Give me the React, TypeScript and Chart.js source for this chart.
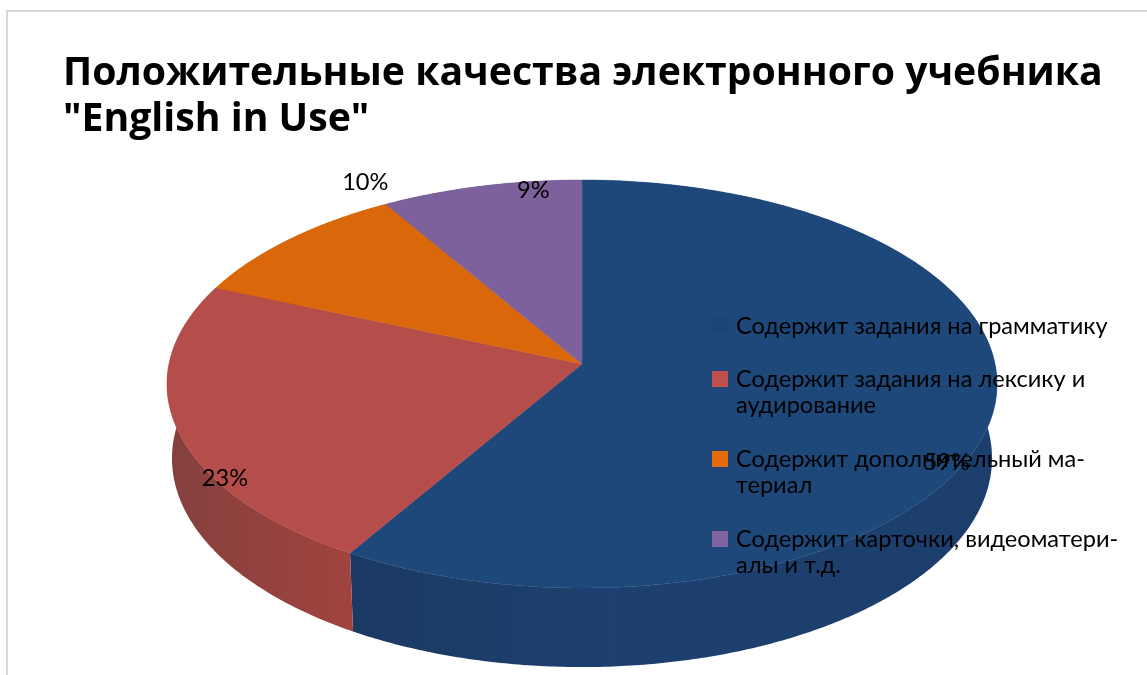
import React, { useEffect, useRef } from "react";
import { Chart, registerables } from "chart.js";

Chart.register(...registerables);

const titleLines = ["Положительные качества электронного учебника", '"English in Use"'];
const categories = [
  "Содержит задания на грамматику",
  "Содержит задания на лексику и аудирование",
  "Содержит дополнительный материал",
  "Содержит карточки, видеоматериалы и т.д.",
];
const values = [58.6, 22.8, 10, 8.6];
const legendLines = [
  ["Содержит задания на грамматику"],
  ["Содержит задания на лексику и", "аудирование"],
  ["Содержит дополнительный ма-", "териал"],
  ["Содержит карточки, видеоматери-", "алы и т.д."],
];
const topColors = ["#1f487a", "#b54d4a", "#da680a", "#7c619c"];
const wallStops = [
  ["#1b3a63", "#1d4070", "#1c3e6c"],
  ["#84403d", "#92423e", "#a0433f"],
  ["#b05508", "#b05508", "#b05508"],
  ["#64507e", "#64507e", "#64507e"],
];
const legendColors = ["#1e4475", "#c0504d", "#e46c0a", "#8064a2"];

const FONT = "Lato, 'Open Sans', sans-serif";
const TITLE_FONT = "'Open Sans', sans-serif";
const view = { cx: 582, cy: 364, A: 413, B: 202, k: 0.098, depth: 75, m: 0.012 };
const labelOffsets = [[-44, 43], [48, 50], [76, -57], [52, 4]];
const legendLayout = { boxX: 712, textX: 736, box: 16, lineH: 26.5, firstLineY: [326, 379, 459, 539] };
const labelFontPx = 23.6;

function project(theta: number, z: 0 | 1) {
  const u = Math.sin(theta);
  const v = -Math.cos(theta);
  const w = 1 - view.k * v + (z ? view.m : 0);
  return {
    x: view.cx + (view.A * u) / w,
    y: view.cy + (view.B * v + (z ? view.depth : 0)) / w,
  };
}

function rim(ctx: CanvasRenderingContext2D, a: number, b: number, z: 0 | 1) {
  const n = Math.max(2, Math.ceil(Math.abs(b - a) / 0.01));
  for (let i = 0; i <= n; i++) {
    const p = project(a + ((b - a) * i) / n, z);
    ctx.lineTo(p.x, p.y);
  }
}

const pie3d = {
  id: "pie3d",
  beforeDraw(chart: any) {
    const ctx = chart.ctx;
    ctx.save();
    ctx.strokeStyle = "#d9d9d9";
    ctx.lineWidth = 2;
    ctx.beginPath();
    ctx.moveTo(7, 675);
    ctx.lineTo(7, 11);
    ctx.lineTo(1147, 11);
    ctx.stroke();
    ctx.restore();
  },
  beforeDatasetDraw() {
    return false;
  },
  afterDatasetsDraw(chart: any) {
    const ctx = chart.ctx;
    const arcs = chart.getDatasetMeta(0).data;
    const angles = arcs.map((arc: any) => {
      const p = arc.getProps(["startAngle", "endAngle"], true);
      return [p.startAngle + Math.PI / 2, p.endAngle + Math.PI / 2];
    });
    ctx.save();
    // side walls
    angles.forEach(([a, b]: number[], i: number) => {
      const g = i === 0 ? ctx.createLinearGradient(350, 0, 997, 0) : ctx.createLinearGradient(167, 0, 352, 0);
      g.addColorStop(0, wallStops[i][0]);
      g.addColorStop(i === 0 ? 0.4 : 0.5, wallStops[i][1]);
      g.addColorStop(1, wallStops[i][2]);
      ctx.fillStyle = g;
      ctx.beginPath();
      rim(ctx, a, b, 0);
      rim(ctx, b, a, 1);
      ctx.closePath();
      ctx.fill();
    });
    // top faces
    angles.forEach(([a, b]: number[], i: number) => {
      ctx.fillStyle = topColors[i];
      ctx.strokeStyle = topColors[i];
      ctx.lineWidth = 0.5;
      ctx.beginPath();
      ctx.moveTo(view.cx, view.cy);
      rim(ctx, a, b, 0);
      ctx.closePath();
      ctx.fill();
      ctx.stroke();
    });
    // percentage labels
    ctx.fillStyle = "#000";
    ctx.textAlign = "center";
    ctx.textBaseline = "middle";
    ctx.font = `${labelFontPx}px ${FONT}`;
    angles.forEach(([a, b]: number[], i: number) => {
      const p = project((a + b) / 2, 0);
      ctx.fillText(`${Math.round(values[i])}%`, p.x + labelOffsets[i][0], p.y + labelOffsets[i][1]);
    });
    // legend
    ctx.textAlign = "left";
    legendLines.forEach((lines, i) => {
      const y0 = legendLayout.firstLineY[i];
      ctx.fillStyle = legendColors[i];
      ctx.fillRect(legendLayout.boxX, y0 - legendLayout.box / 2, legendLayout.box, legendLayout.box);
      ctx.fillStyle = "#000";
      lines.forEach((line, j) => ctx.fillText(line, legendLayout.textX, y0 + j * legendLayout.lineH));
    });
    ctx.restore();
  },
};

export default function App() {
  const ref = useRef<HTMLCanvasElement | null>(null);
  useEffect(() => {
    document.body.style.margin = "0";
    const chart = new Chart(ref.current as HTMLCanvasElement, {
      type: "pie",
      data: {
        labels: categories,
        datasets: [{ data: values, backgroundColor: topColors, borderWidth: 0 }],
      },
      options: {
        animation: false,
        responsive: false,
        events: [],
        layout: { padding: { left: 63, top: 51, right: 0 } },
        plugins: {
          legend: { display: false },
          tooltip: { enabled: false },
          title: {
            display: true,
            text: titleLines,
            align: "start",
            color: "#000",
            padding: 0,
            font: { family: TITLE_FONT, size: 39.2, weight: "bold", lineHeight: 1.173 },
          },
        },
      },
      plugins: [pie3d],
    } as any);
    return () => chart.destroy();
  }, []);
  return (
    <div style={{ width: 1147, height: 675, background: "#fff" }}>
      <canvas ref={ref} width={1147} height={675} style={{ display: "block" }} />
    </div>
  );
}
